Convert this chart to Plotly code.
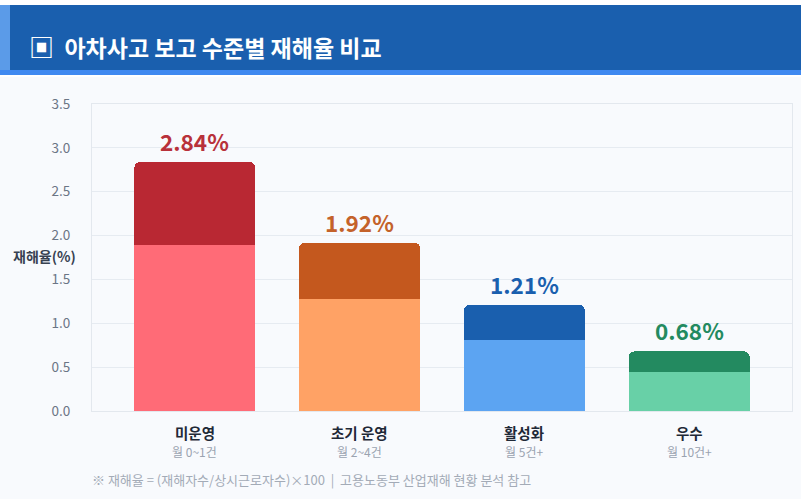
import plotly.graph_objects as go

# 데이터
levels = ["미운영", "초기 운영", "활성화", "우수"]
report_ranges = ["월 0~1건", "월 2~4건", "월 5건+", "월 10건+"]
rates = [2.84, 1.92, 1.21, 0.68]
light_part = [1.89, 1.28, 0.81, 0.45]   # 아래쪽 밝은 부분 높이
light_colors = ["#ff6b77", "#ffa265", "#5ca4f2", "#68d0a7"]
dark_colors = ["#b92833", "#c4581e", "#1a5fae", "#238a60"]
label_colors = ["#b8313a", "#c4622a", "#1a5fae", "#238a60"]
y_ticks = [0, 0.5, 1.0, 1.5, 2.0, 2.5, 3.0, 3.5]

W, H = 801, 499
ML, MR, MT, MB = 92, 9, 104, 88
PW, PH = W - ML - MR, H - MT - MB


def px_x(x):
    return (x - ML) / PW


def px_y(y):
    return (H - MB - y) / PH


FONT = "Noto Sans CJK KR, Noto Sans, sans-serif"
x_idx = list(range(len(levels)))
cap = [r - l for r, l in zip(rates, light_part)]

fig = go.Figure()
fig.add_trace(go.Bar(x=x_idx, y=light_part, marker_color=light_colors,
                     width=0.735, marker_line_width=0, hoverinfo="skip"))
fig.add_trace(go.Bar(x=x_idx, y=cap, marker_color=dark_colors,
                     width=0.735, marker_line_width=0, marker_cornerradius=6,
                     hoverinfo="skip"))

# 값 라벨
for i, (r, c) in enumerate(zip(rates, label_colors)):
    fig.add_annotation(x=i, y=r, text=f"<b>{r:.2f}%</b>", showarrow=False,
                       yanchor="bottom", yshift=3,
                       font=dict(family=FONT, size=22.5, color=c))

# 카테고리 라벨
for i, (name, sub) in enumerate(zip(levels, report_ranges)):
    fig.add_annotation(x=i, y=px_y(432), yref="paper", text=f"<b>{name}</b>",
                       showarrow=False, yanchor="middle",
                       font=dict(family=FONT, size=14.5, color="#1f2937"))
    fig.add_annotation(x=i, y=px_y(451), yref="paper", text=sub,
                       showarrow=False, yanchor="middle",
                       font=dict(family=FONT, size=12, color="#9aa3b0"))

# 축 제목
fig.add_annotation(x=px_x(78), y=px_y(256), xref="paper", yref="paper",
                   text="<b>재해율(%)</b>", showarrow=False,
                   xanchor="right", yanchor="middle",
                   font=dict(family=FONT, size=14, color="#374151"))

# 주석
fig.add_annotation(x=px_x(90), y=px_y(479), xref="paper", yref="paper",
                   text="※ 재해율 = (재해자수/상시근로자수)×100  |  고용노동부 산업재해 현황 분석 참고",
                   showarrow=False, xanchor="left", yanchor="middle",
                   font=dict(family=FONT, size=13, color="#a3abb7"))

# 제목 배너
shapes = [
    dict(type="rect", x0=px_x(0), x1=px_x(W), y0=px_y(0), y1=px_y(5),
         fillcolor="#ffffff"),
    dict(type="rect", x0=px_x(0), x1=px_x(W), y0=px_y(5), y1=px_y(75),
         fillcolor="#1a5fae"),
    dict(type="rect", x0=px_x(0), x1=px_x(W), y0=px_y(70), y1=px_y(75),
         fillcolor="#3f89f0"),
    dict(type="rect", x0=px_x(0), x1=px_x(10), y0=px_y(5), y1=px_y(70),
         fillcolor="#5b9be8"),
    dict(type="rect", x0=px_x(0), x1=px_x(W), y0=px_y(75), y1=px_y(77),
         fillcolor="#ffffff"),
]
for s in shapes:
    s.update(xref="paper", yref="paper", line_width=0, layer="below")
fig.update_layout(shapes=shapes)

fig.add_annotation(x=px_x(27), y=px_y(46), xref="paper", yref="paper",
                   text="<b><span style='font-size:25px'>▣</span>  아차사고 보고 수준별 재해율 비교</b>",
                   showarrow=False, xanchor="left", yanchor="middle",
                   font=dict(family=FONT, size=23, color="#ffffff"))

fig.update_layout(
    width=W, height=H,
    margin=dict(l=ML, r=MR, t=MT, b=MB),
    barmode="stack",
    showlegend=False,
    paper_bgcolor="#f8fafd",
    plot_bgcolor="#f8fafd",
    font=dict(family=FONT),
    xaxis=dict(range=[-0.624, 3.624], tickvals=x_idx, ticktext=[""] * 4,
               showgrid=False, zeroline=False, showline=True,
               linecolor="#e3e8ee", linewidth=1, mirror=True, fixedrange=True),
    yaxis=dict(range=[0, 3.5], tickvals=y_ticks,
               ticktext=[f"{v:.1f}" for v in y_ticks],
               gridcolor="#e6ebf1", gridwidth=1, zeroline=False,
               showline=True, linecolor="#e3e8ee", linewidth=1, mirror=True,
               ticklabelstandoff=18,
               tickfont=dict(family=FONT, size=13.5, color="#6b7585"),
               fixedrange=True),
)

# 브라우저 기본 여백 제거
fig.write_html("out.html", config={"displayModeBar": False},
               post_script="document.body.style.margin='0';")
